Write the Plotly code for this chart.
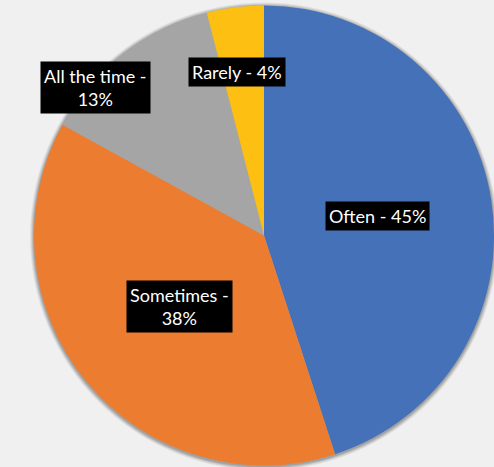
import plotly.graph_objects as go

categories = ["Often", "Sometimes", "All the time", "Rarely"]
values = [45, 38, 13, 4]
colors = ["#4571B8", "#EC7C30", "#A5A5A5", "#FDBF12"]
label_texts = ["Often - 45%", "Sometimes -<br>38%", "All the time -<br>13%", "Rarely - 4%"]

W, H = 494, 467
fig = go.Figure(go.Pie(
    labels=categories, values=values, sort=False, direction="clockwise", rotation=0,
    marker=dict(colors=colors, line=dict(width=0)),
    textinfo="none", hoverinfo="label+percent", showlegend=False,
    domain=dict(x=[34 / W, 1.0], y=[1 - 466 / H, 1 - 5 / H]),
))

# soft shadow around the pie
cx, cy, r = 264, 235.5, 230
for d, op in [(4, 0.06), (3, 0.08), (2, 0.1), (1, 0.12)]:
    fig.add_shape(type="circle", xref="paper", yref="paper", layer="below",
                  x0=(cx - r - d) / W, x1=(cx + r + d) / W,
                  y0=1 - (cy + 1 + r + d) / H, y1=1 - (cy + 1 - r - d) / H,
                  fillcolor="black", opacity=op, line=dict(width=0))

label_pos = [(377, 216), (179, 306), (95, 88), (237, 72)]
for t, (px, py) in zip(label_texts, label_pos):
    fig.add_annotation(
        x=px / W, y=1 - py / H, xref="paper", yref="paper", text=t, showarrow=False,
        xanchor="center", yanchor="middle",
        font=dict(family="Lato, Open Sans, sans-serif", size=18, color="white"),
        bgcolor="black", borderpad=3,
    )

fig.update_layout(
    width=W, height=H, margin=dict(l=0, r=0, t=0, b=0),
    paper_bgcolor="#F0F0F0", plot_bgcolor="#F0F0F0",
)
fig.write_html("out.html")
